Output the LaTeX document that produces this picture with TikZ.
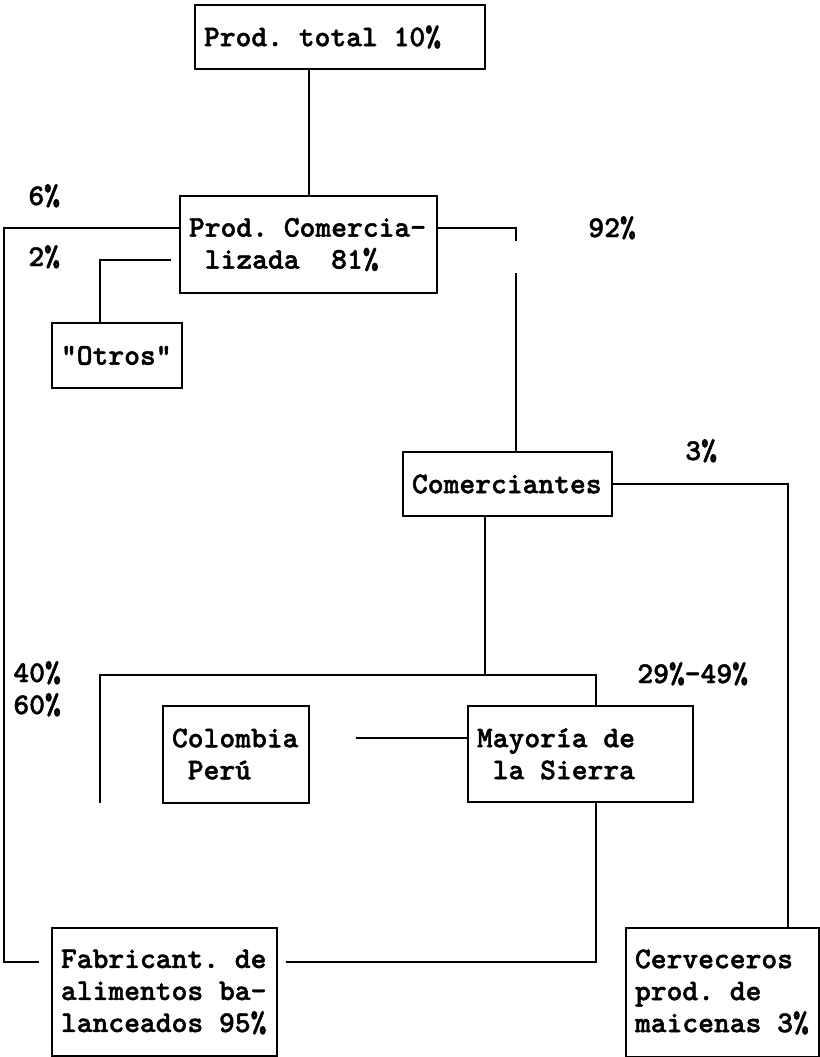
\documentclass[tikz,border=0pt]{standalone}
\usepackage{fontspec}
\newfontfamily\chartfont{lmmonolt10-bold.otf}[FakeBold=1.5]
\usepackage{tikz}
\usetikzlibrary{positioning}

\begin{document}
\begin{tikzpicture}[
  x=0.5pt, y=-0.5pt,
  font=\chartfont\fontsize{15.05pt}{16pt}\selectfont\frenchspacing,
  box/.style={rectangle, draw=black, line width=1pt, inner xsep=4.5pt, inner ysep=0pt, align=flush left},
  flow/.style={-, line width=1pt, black},
  pct/.style={inner sep=0pt, anchor=base west}
]
\useasboundingbox (0,0) rectangle (820,1057);

% Production and first split
\node[box, text width=136pt, minimum height=32pt] (total_box) at (340,37) {Prod. total 10\%};
\node[box, text width=119.5pt, minimum height=48.5pt, below of=total_box, node distance=103.75pt, xshift=-15.75pt] (comerc_box) {Prod. Comercia-\\~lizada~~81\%};
\node[box, text width=56pt, minimum height=32.5pt, below of=comerc_box, node distance=55.5pt, xshift=-95.75pt] (otros_box) {"Otros"};
\node[box, text width=95.5pt, minimum height=32pt, below of=comerc_box, node distance=119.75pt, xshift=99.5pt] (comer_box) {Comerciantes};

% Traders and buyers
\node[box, text width=103.5pt, minimum height=48pt, below of=comer_box, node distance=135pt, xshift=36.5pt] (sierra_box) {Mayoría de\\~la Sierra};
\node[box, text width=64pt, minimum height=48.5pt, left of=sierra_box, node distance=172.25pt] (colper_box) {Colombia\\~Perú};
\node[box, text width=103.5pt, minimum height=64pt, below of=colper_box, node distance=119pt, xshift=-35.75pt] (fabric_box) {Fabricant. de\\alimentos ba-\\lanceados 95\%};
\node[box, text width=87.5pt, minimum height=64.5pt, right of=fabric_box, node distance=279pt] (cerv_box) {Cerveceros\\prod. de\\maicenas 3\%};

% Bends and free ends
\coordinate (left_rail) at (4,600);
\coordinate (gap_top) at (516,241);
\coordinate (gap_bot) at (516,273);
\coordinate (right_rail) at (788,484);
\coordinate (split_mid) at (485,675);
\coordinate (split_left) at (100,803);
\coordinate (split_right) at (596,675);

\draw[flow] (comerc_box.north) -- (comerc_box.north |- total_box.south);
\draw[flow, shorten >=6pt] ([yshift=8.25pt]comerc_box.west) -| (left_rail) |- ([yshift=15pt]fabric_box.west);
\draw[flow, shorten <=4pt] ([yshift=-7.75pt]comerc_box.west) -| ([xshift=-8.5pt]otros_box.north);
\draw[flow] ([yshift=8.25pt]comerc_box.east) -| (gap_top);
\draw[flow] (gap_bot) -- (gap_bot |- comer_box.north);
\draw[flow] (comer_box.east) -- (right_rail) -- (right_rail |- cerv_box.north);
\draw[flow] (comer_box.south -| split_mid) -- (split_mid);
\draw[flow] (split_left) |- (split_right) -- (split_right |- sierra_box.north);
\draw[flow, shorten <=23pt] ([yshift=8pt]colper_box.east) -- ([yshift=8pt]sierra_box.west);
\draw[flow, shorten >=4pt] (sierra_box.south -| split_right) |- ([yshift=15pt]fabric_box.east);

% Shares
\node[pct] (p6_label) at (28,205) {6\%};
\node[pct] (p2_label) at (28,266) {2\%};
\node[pct] (p92_label) at (588,237) {92\%};
\node[pct] (p3_label) at (685,460) {3\%};
\node[pct] (p2949_label) at (637,683) {29\%-49\%};
\node[pct] (p40_label) at (13,682) {40\%};
\node[pct] (p60_label) at (13,714) {60\%};

\end{tikzpicture}
\end{document}
